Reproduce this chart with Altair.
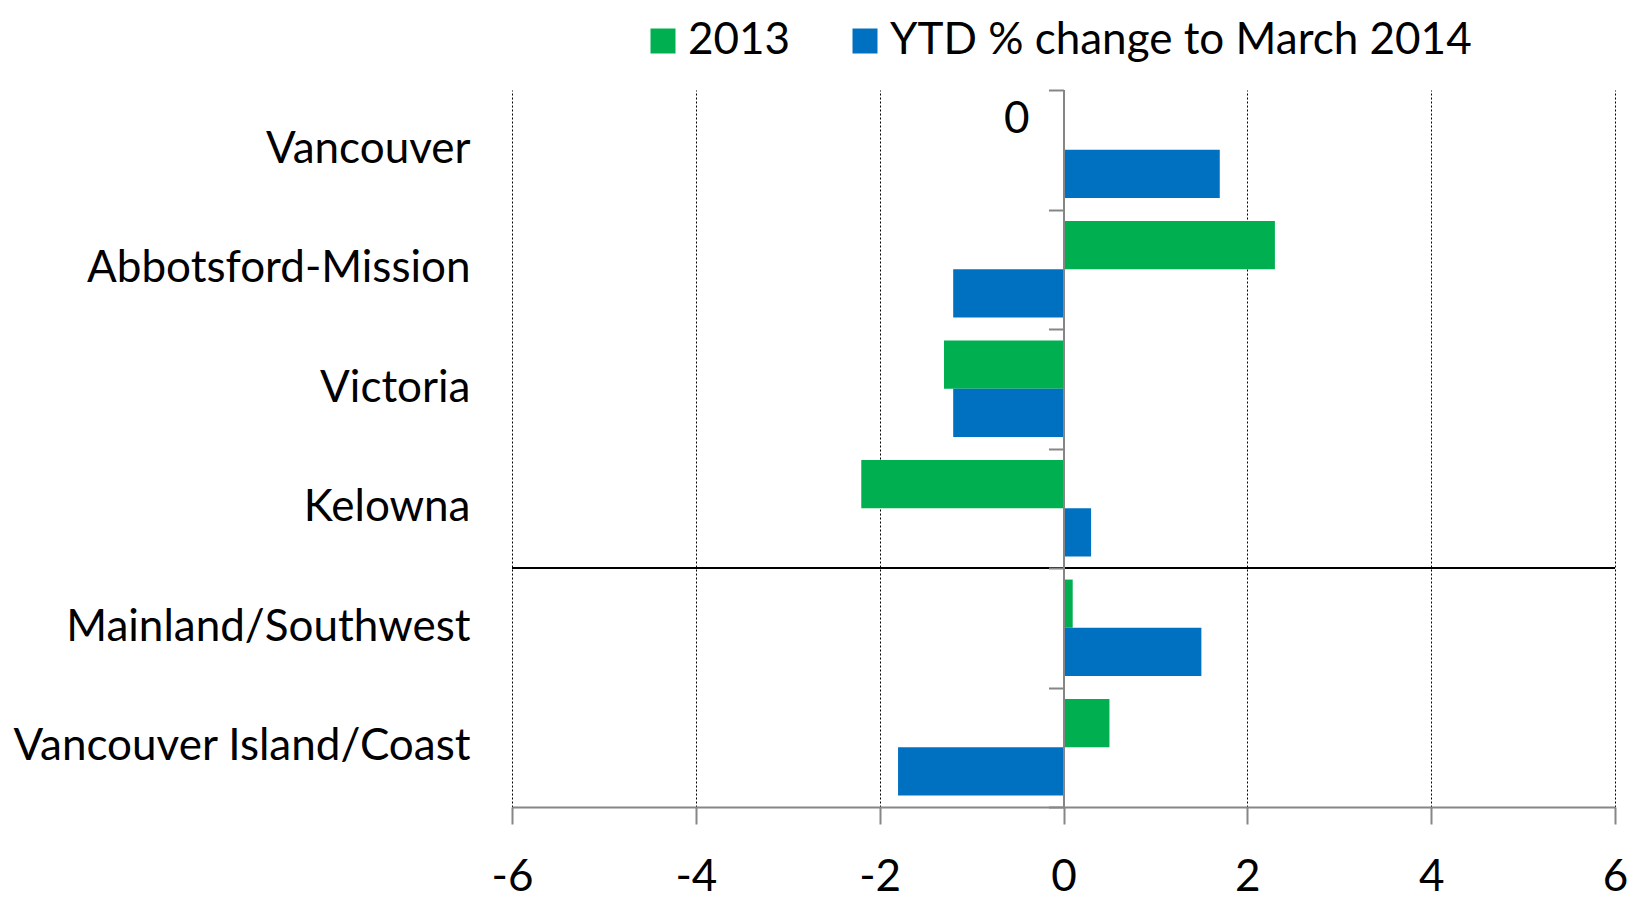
import altair as alt
import pandas as pd

categories = ["Vancouver", "Abbotsford-Mission", "Victoria", "Kelowna",
              "Mainland/Southwest", "Vancouver Island/Coast"]
series = ["2013", "YTD % change to March 2014"]
values_2013 = [0, 2.3, -1.3, -2.2, 0.1, 0.5]
values_ytd = [1.7, -1.2, -1.2, 0.3, 1.5, -1.8]
colors = ["#00B050", "#0070C0"]
x_ticks = [-6, -4, -2, 0, 2, 4, 6]
separator_before = ["Mainland/Southwest"]

rows = []
for c, a, b in zip(categories, values_2013, values_ytd):
    rows.append({"region": c, "series": series[0], "value": a})
    rows.append({"region": c, "series": series[1], "value": b})
df = pd.DataFrame(rows)

FONT = "Lato"
FS = 44
W, H = 1103, 717

yscale = alt.Scale(domain=categories, paddingInner=0, paddingOuter=0)
xscale = alt.Scale(domain=[-6, 6], nice=False, zero=False)
offscale = alt.Scale(domain=series, paddingInner=0, paddingOuter=0.24)

bars = alt.Chart(df).mark_bar().encode(
    y=alt.Y("region:N", scale=yscale, sort=categories, title=None,
            axis=alt.Axis(domain=False, ticks=False, grid=False, labelFont=FONT,
                          labelFontSize=FS, labelColor="black", labelPadding=42,
                          labelLimit=700)),
    yOffset=alt.YOffset("series:N", scale=offscale, sort=series),
    x=alt.X("value:Q", scale=xscale, title=None,
            axis=alt.Axis(values=x_ticks, grid=True, gridColor="black",
                          gridDash=[2, 2], gridWidth=1, gridOpacity=1,
                          domainColor="#868686", domainWidth=2,
                          tickColor="#868686", tickSize=17, tickWidth=2,
                          labelFont=FONT, labelFontSize=FS, labelColor="black",
                          labelPadding=31, labelFlush=False,
                          labelExpr="datum.value")),
    color=alt.Color("series:N", sort=series,
                    scale=alt.Scale(domain=series, range=colors),
                    legend=alt.Legend(orient="none", legendX=129, legendY=-71,
                                      direction="horizontal", title=None,
                                      symbolType="square", symbolSize=625,
                                      symbolStrokeWidth=0, symbolOpacity=1,
                                      labelFont=FONT, labelFontSize=FS,
                                      labelColor="black", labelOffset=3,
                                      columnPadding=52, labelLimit=900)),
)

label_df = df[(df.region == categories[0]) & (df.series == series[0])]
text = alt.Chart(label_df).mark_text(
    font=FONT, fontSize=FS, align="right", baseline="middle", dx=-34, dy=-6,
    color="black").encode(
    y=alt.Y("region:N", scale=yscale, sort=categories, title=None, axis=None),
    yOffset=alt.YOffset("series:N", scale=offscale, sort=series),
    x=alt.X("value:Q", scale=xscale, title=None),
    text=alt.Text("value:Q", format="d"),
)

sep_df = pd.DataFrame({"region": separator_before, "x1": [-6], "x2": [6]})
sep = alt.Chart(sep_df).mark_rule(color="black", strokeWidth=2).encode(
    y=alt.Y("region:N", scale=yscale, sort=categories, bandPosition=0,
            title=None,
            axis=alt.Axis(orient="left", offset=-W / 2, labels=False,
                          domainColor="#868686", domainWidth=2,
                          tickColor="#868686", tickWidth=2, tickSize=15,
                          tickBand="extent", zindex=1, grid=False)),
    x=alt.X("x1:Q", scale=xscale, title=None),
    x2="x2:Q",
)

chart = alt.layer(bars, text, sep).resolve_axis(y="independent").properties(
    width=W, height=H, autosize="none",
    padding={"left": 504, "top": 82, "right": 15, "bottom": 93},
).configure_view(stroke=None)

chart.save("out.html", embed_options={"renderer": "svg", "actions": False})
